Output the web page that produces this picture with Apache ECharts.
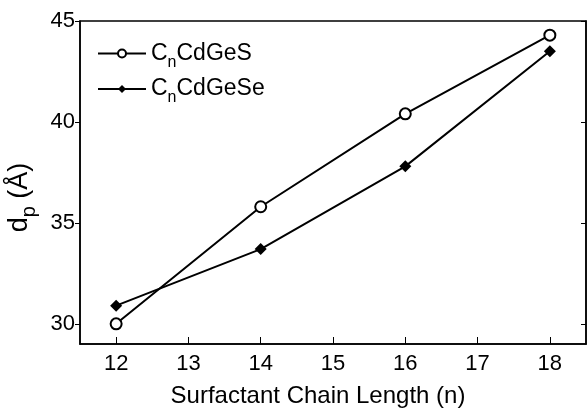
<!DOCTYPE html>
<html><head><meta charset="utf-8">
<script src="https://cdn.jsdelivr.net/npm/echarts@6/dist/echarts.min.js"></script>
<style>html,body{margin:0;padding:0;background:#fff}#c{width:588px;height:409px}</style>
</head><body><div id="c"></div>
<script>
const chainLength = [12, 14, 16, 18];
const xTicks = [12, 13, 14, 15, 16, 17, 18];
const seriesNames = ['CnCdGeS', 'CnCdGeSe'];
const dpGeS = [30.0, 35.8, 40.4, 44.3];
const dpGeSe = [30.9, 33.7, 37.8, 43.5];
const yTicks = [30, 35, 40, 45];

const chart = echarts.init(document.getElementById('c'));
const font = 'Liberation Sans, Arial, Helvetica, sans-serif';
const rich = {
  a: {fontSize: 23, fontFamily: font, color: '#000'},
  b: {fontSize: 16, fontFamily: font, color: '#000', padding: [18, 0, 0, 0]}
};
chart.setOption({
  animation: false,
  grid: {left: 80, right: 2, top: 21, bottom: 65, show: true, borderColor: '#000', borderWidth: 1.5,
         containLabel: false, outerBoundsMode: 'none'},
  legend: {
    left: 92, top: 37, orient: 'vertical', itemGap: 7, itemWidth: 48, itemHeight: 10,
    data: seriesNames,
    formatter: n => '{a|C}{b|n}{a|' + n.slice(2) + '}',
    textStyle: {rich: rich, fontFamily: font}
  },
  xAxis: {
    type: 'value', min: 11.5, max: 18.5, interval: 1,
    axisLine: {lineStyle: {color: '#000', width: 1.5}},
    axisTick: {inside: true, length: 7, lineStyle: {color: '#000'}, customValues: xTicks},
    axisLabel: {fontSize: 22, fontFamily: font, color: '#000', margin: 9, customValues: xTicks},
    splitLine: {show: false},
    name: 'Surfactant Chain Length (n)', nameLocation: 'middle', nameGap: 40,
    nameTextStyle: {fontSize: 24, fontFamily: font, color: '#000', padding: [0, 30, 0, 0]}
  },
  yAxis: [{
    type: 'value', min: 29, max: 45,
    axisLine: {show: true, lineStyle: {color: '#000', width: 1.5}},
    axisTick: {inside: false, length: 5, lineStyle: {color: '#000'}, customValues: yTicks},
    axisLabel: {fontSize: 22, fontFamily: font, color: '#000', margin: 5, customValues: yTicks},
    splitLine: {show: false},
    name: '{a|d}{b|p}{a| (Å)}', nameLocation: 'middle', nameGap: 30,
    nameTextStyle: {padding: [0, 30, 0, 0], rich: {
      a: {fontSize: 27, fontFamily: font, color: '#000'},
      b: {fontSize: 20, fontFamily: font, color: '#000', padding: [20, 0, 0, 0]}
    }}
  }, {
    type: 'value', min: 29, max: 45, position: 'right',
    axisLine: {show: true, lineStyle: {color: '#000', width: 1.5}},
    axisTick: {inside: true, length: 5, lineStyle: {color: '#000'}, customValues: yTicks},
    axisLabel: {show: false}, splitLine: {show: false}
  }],
  series: [{
    name: seriesNames[0], type: 'line',
    data: chainLength.map((x, i) => [x, dpGeS[i]]),
    symbol: 'emptyCircle', symbolSize: 11,
    lineStyle: {color: '#000', width: 2},
    itemStyle: {color: '#000', borderWidth: 1}
  }, {
    name: seriesNames[1], type: 'line',
    data: chainLength.map((x, i) => [x, dpGeSe[i]]),
    symbol: 'diamond', symbolSize: 12,
    lineStyle: {color: '#000', width: 2},
    itemStyle: {color: '#000'}
  }]
});
</script></body></html>
